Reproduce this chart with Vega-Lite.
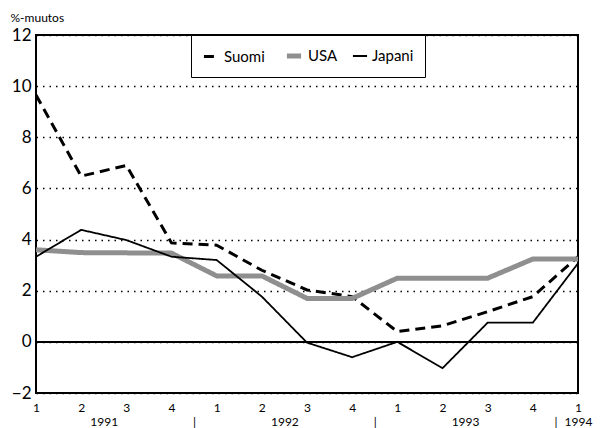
{
  "$schema": "https://vega.github.io/schema/vega-lite/v6.json",
  "width": 542,
  "height": 358,
  "autosize": {"type": "none"},
  "padding": {"left": 36, "top": 35, "right": 28, "bottom": 35},
  "background": "white",
  "config": {
    "font": "Lato",
    "view": {"stroke": "black", "strokeWidth": 2},
    "axis": {"domain": false, "ticks": false, "labelColor": "black", "titleColor": "black"}
  },
  "data": {
    "values": [
      {"q": 0, "series": "Suomi", "value": 9.65},
      {"q": 1, "series": "Suomi", "value": 6.48},
      {"q": 2, "series": "Suomi", "value": 6.9},
      {"q": 3, "series": "Suomi", "value": 3.87},
      {"q": 4, "series": "Suomi", "value": 3.78},
      {"q": 5, "series": "Suomi", "value": 2.8},
      {"q": 6, "series": "Suomi", "value": 2.03},
      {"q": 7, "series": "Suomi", "value": 1.77},
      {"q": 8, "series": "Suomi", "value": 0.4},
      {"q": 9, "series": "Suomi", "value": 0.63},
      {"q": 10, "series": "Suomi", "value": 1.18},
      {"q": 11, "series": "Suomi", "value": 1.77},
      {"q": 12, "series": "Suomi", "value": 3.33},
      {"q": 0, "series": "USA", "value": 3.6},
      {"q": 1, "series": "USA", "value": 3.49},
      {"q": 2, "series": "USA", "value": 3.48},
      {"q": 3, "series": "USA", "value": 3.47},
      {"q": 4, "series": "USA", "value": 2.58},
      {"q": 5, "series": "USA", "value": 2.58},
      {"q": 6, "series": "USA", "value": 1.7},
      {"q": 7, "series": "USA", "value": 1.7},
      {"q": 8, "series": "USA", "value": 2.49},
      {"q": 9, "series": "USA", "value": 2.49},
      {"q": 10, "series": "USA", "value": 2.49},
      {"q": 11, "series": "USA", "value": 3.24},
      {"q": 12, "series": "USA", "value": 3.24},
      {"q": 0, "series": "Japani", "value": 3.33},
      {"q": 1, "series": "Japani", "value": 4.38},
      {"q": 2, "series": "Japani", "value": 3.98},
      {"q": 3, "series": "Japani", "value": 3.33},
      {"q": 4, "series": "Japani", "value": 3.2},
      {"q": 5, "series": "Japani", "value": 1.77},
      {"q": 6, "series": "Japani", "value": -0.03},
      {"q": 7, "series": "Japani", "value": -0.6},
      {"q": 8, "series": "Japani", "value": 0.0},
      {"q": 9, "series": "Japani", "value": -1.03},
      {"q": 10, "series": "Japani", "value": 0.75},
      {"q": 11, "series": "Japani", "value": 0.75},
      {"q": 12, "series": "Japani", "value": 3.07}
    ]
  },
  "layer": [
    {
      "mark": {"type": "rule", "color": "black", "strokeWidth": 1.5},
      "encoding": {"y": {"datum": 0}}
    },
    {
      "mark": {"type": "line", "clip": true},
      "encoding": {
        "x": {
          "field": "q",
          "type": "quantitative",
          "scale": {"domain": [0, 12], "nice": false, "zero": false},
          "axis": {
            "title": null,
            "grid": false,
            "values": [0, 1, 1.5, 2, 3, 3.5, 4, 5, 5.5, 6, 7, 7.5, 8, 9, 9.5, 10, 11, 11.5, 12],
            "labelExpr": "datum.value == 1.5 ? ['', '1991'] : datum.value == 3.5 ? ['', '|'] : datum.value == 5.5 ? ['', '1992'] : datum.value == 7.5 ? ['', '|'] : datum.value == 9.5 ? ['', '1993'] : datum.value == 11.5 ? ['', '|'] : datum.value == 12 ? ['1', '  1994'] : ['' + (datum.value % 4 + 1)]",
            "labelFlush": false,
            "labelOverlap": false,
            "labelFontSize": 12,
            "labelLineHeight": 14,
            "labelPadding": 9,
            "labelBaseline": "top"
          }
        },
        "y": {
          "field": "value",
          "type": "quantitative",
          "scale": {"domain": [-2, 12], "nice": false},
          "axis": {
            "values": [-2, 0, 2, 4, 6, 8, 10, 12],
            "grid": true,
            "gridColor": "black",
            "gridDash": [1.5, 5],
            "gridWidth": 1.5,
            "gridOpacity": 1,
            "labelFontSize": 17,
            "labelPadding": 5,
            "title": "%-muutos",
            "titleAngle": 0,
            "titleX": -26,
            "titleY": -18,
            "titleAlign": "left",
            "titleBaseline": "middle",
            "titleFontSize": 12,
            "titleFontWeight": "normal"
          }
        },
        "color": {
          "field": "series",
          "type": "nominal",
          "scale": {"domain": ["Suomi", "USA", "Japani"], "range": ["black", "#8f8f8f", "black"]},
          "legend": {
            "title": null,
            "orient": "none",
            "legendX": 155,
            "legendY": 0,
            "direction": "horizontal",
            "strokeColor": "black",
            "fillColor": "white",
            "padding": 11,
            "symbolType": "stroke",
            "symbolSize": 200,
            "labelFontSize": 15,
            "labelColor": "black",
            "columnPadding": 11,
            "labelOffset": 4
          }
        },
        "strokeDash": {
          "field": "series",
          "type": "nominal",
          "scale": {"domain": ["Suomi", "USA", "Japani"], "range": [[10, 6], [1, 0], [1, 0]]},
          "legend": null
        },
        "strokeWidth": {
          "field": "series",
          "type": "nominal",
          "scale": {"type": "ordinal", "domain": ["Suomi", "USA", "Japani"], "range": [3, 5, 1.8]},
          "legend": null
        },
        "order": {"field": "q"}
      }
    }
  ]
}
